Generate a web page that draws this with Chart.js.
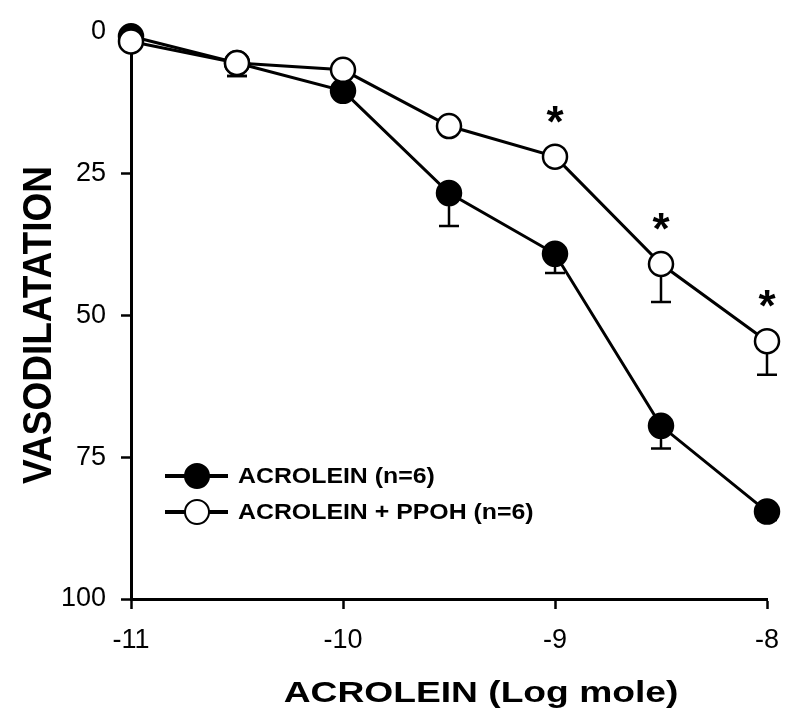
<!DOCTYPE html>
<html>
<head>
<meta charset="utf-8">
<script src="https://cdn.jsdelivr.net/npm/chart.js@4.4.1/dist/chart.umd.min.js"></script>
<style>
  body { margin: 0; background: #fff; }
  #wrap { width: 800px; height: 722px; }
</style>
</head>
<body>
<div id="wrap"><canvas id="chartVaso" width="800" height="722"></canvas></div>
<script>
const logDose = [-11, -10.5, -10, -9.5, -9, -8.5, -8];
const acrolein = [0.9, 5.6, 10.5, 28.5, 39.2, 69.5, 84.6];
const acroleinErr = [0, 2.3, 1.0, 5.8, 3.4, 4.0, 1.5];
const acroleinPpoh = [1.8, 5.6, 6.8, 16.7, 22.1, 41.0, 54.6];
const acroleinPpohErr = [0, 2.3, 0.5, 0.8, 0.8, 6.7, 5.9];
const significant = ["", "", "", "", "*", "*", "*"];
const xTicks = [-11, -10, -9, -8];
const yTicks = [0, 25, 50, 75, 100];

const FONT = "'Liberation Sans', Arial, sans-serif";

function toPoints(values) {
  return values.map((v, i) => ({ x: logDose[i], y: v }));
}

// one-sided error bars, drawn under the markers
const errorBars = {
  id: "errorBars",
  beforeDatasetsDraw(chart) {
    const ctx = chart.ctx;
    const xs = chart.scales.x;
    const ys = chart.scales.y;
    chart.data.datasets.forEach((ds) => {
      if (!ds.errors) return;
      ctx.save();
      ctx.strokeStyle = "#000";
      ctx.lineWidth = 2.5;
      ds.errors.forEach((e, i) => {
        if (!e) return;
        const x = xs.getPixelForValue(ds.data[i].x);
        const y0 = ys.getPixelForValue(ds.data[i].y);
        const y1 = ys.getPixelForValue(ds.data[i].y + e);
        ctx.beginPath();
        ctx.moveTo(x, y0);
        ctx.lineTo(x, y1);
        ctx.moveTo(x - 10, y1);
        ctx.lineTo(x + 10, y1);
        ctx.stroke();
      });
      ctx.restore();
    });
  },
};

// asterisks over the PPOH points
const stars = {
  id: "stars",
  afterDatasetsDraw(chart) {
    const ctx = chart.ctx;
    const xs = chart.scales.x;
    const ys = chart.scales.y;
    ctx.save();
    ctx.font = "bold 44px " + FONT;
    ctx.textAlign = "center";
    ctx.textBaseline = "alphabetic";
    ctx.fillStyle = "#000";
    significant.forEach((s, i) => {
      if (!s) return;
      const x = xs.getPixelForValue(logDose[i]);
      const y = ys.getPixelForValue(acroleinPpoh[i]);
      ctx.fillText(s, x, y - 20);
    });
    ctx.restore();
  },
};

// legend with line through marker + axis titles
const decorations = {
  id: "decorations",
  afterDraw(chart) {
    const ctx = chart.ctx;
    chart.data.datasets.forEach((ds, i) => {
      const y = 476 + i * 36;
      ctx.save();
      ctx.strokeStyle = "#000";
      ctx.lineWidth = 4;
      ctx.beginPath();
      ctx.moveTo(165, y);
      ctx.lineTo(228, y);
      ctx.stroke();
      ctx.beginPath();
      ctx.arc(197, y, 12, 0, Math.PI * 2);
      ctx.fillStyle = ds.pointBackgroundColor;
      ctx.fill();
      ctx.lineWidth = 2;
      ctx.stroke();
      ctx.translate(238, y);
      ctx.scale(1.13, 1);
      ctx.font = "bold 22px " + FONT;
      ctx.textBaseline = "middle";
      ctx.fillStyle = "#000";
      ctx.fillText(ds.label, 0, 1);
      ctx.restore();
    });

    ctx.save();
    ctx.fillStyle = "#000";
    ctx.font = "bold 30px " + FONT;
    ctx.textAlign = "center";
    ctx.textBaseline = "alphabetic";
    ctx.translate(481, 702);
    ctx.scale(1.24, 1);
    ctx.fillText("ACROLEIN (Log mole)", 0, 0);
    ctx.restore();

    ctx.save();
    ctx.fillStyle = "#000";
    ctx.font = "bold 37px " + FONT;
    ctx.textAlign = "center";
    ctx.textBaseline = "alphabetic";
    ctx.translate(51, 325);
    ctx.rotate(-Math.PI / 2);
    ctx.scale(1, 1.08);
    ctx.fillText("VASODILATATION", 0, 0);
    ctx.restore();
  },
};

const chart = new Chart("chartVaso", {
  type: "line",
  data: {
    datasets: [
      {
        label: "ACROLEIN (n=6)",
        data: toPoints(acrolein),
        errors: acroleinErr,
        borderColor: "#000",
        borderWidth: 3,
        pointRadius: 12,
        pointBorderWidth: 2.5,
        pointBackgroundColor: "#000",
        pointBorderColor: "#000",
        lineTension: 0,
        fill: false,
        clip: false,
        order: 2,
      },
      {
        label: "ACROLEIN + PPOH (n=6)",
        data: toPoints(acroleinPpoh),
        errors: acroleinPpohErr,
        borderColor: "#000",
        borderWidth: 3,
        pointRadius: 12,
        pointBorderWidth: 2.5,
        pointBackgroundColor: "#fff",
        pointBorderColor: "#000",
        lineTension: 0,
        fill: false,
        clip: false,
        order: 1,
      },
    ],
  },
  options: {
    responsive: false,
    animation: false,
    events: [],
    layout: { padding: { left: 0, top: 29, right: 33, bottom: 0 } },
    plugins: {
      legend: { display: false },
      tooltip: { enabled: false },
    },
    scales: {
      x: {
        type: "linear",
        min: -11,
        max: -8,
        afterBuildTicks: (s) => {
          s.ticks = xTicks.map((v) => ({ value: v }));
        },
        afterFit: (s) => {
          s.height = 123;
        },
        border: { display: true, color: "#000", width: 3 },
        grid: {
          drawOnChartArea: false,
          drawTicks: true,
          tickLength: 10,
          tickWidth: 2.5,
          tickColor: "#000",
        },
        ticks: {
          color: "#000",
          padding: 15,
          font: { family: FONT, size: 27 },
        },
      },
      y: {
        type: "linear",
        reverse: true,
        min: 0,
        max: 100,
        afterBuildTicks: (s) => {
          s.ticks = yTicks.map((v) => ({ value: v }));
        },
        afterFit: (s) => {
          s.width = 131;
        },
        border: { display: true, color: "#000", width: 3 },
        grid: {
          drawOnChartArea: false,
          drawTicks: true,
          tickLength: 10,
          tickWidth: 2.5,
          tickColor: "#000",
        },
        ticks: {
          color: "#000",
          padding: 15,
          font: { family: FONT, size: 27 },
        },
      },
    },
  },
  plugins: [errorBars, stars, decorations],
});
</script>
</body>
</html>
